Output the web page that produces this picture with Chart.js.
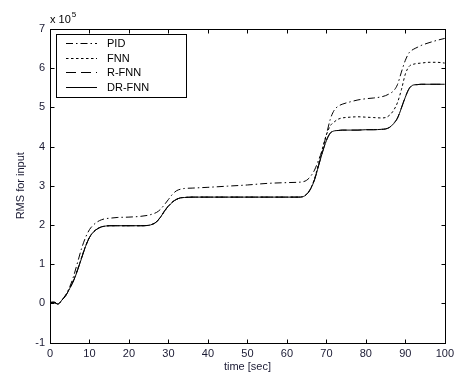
<!DOCTYPE html>
<html><head><meta charset="utf-8">
<script src="https://cdn.jsdelivr.net/npm/chart.js@4.4.1/dist/chart.umd.min.js"></script>
<style>html,body{margin:0;padding:0;background:#fff;overflow:hidden}</style>
</head><body>
<canvas id="c" width="459" height="374"></canvas>
<script>
// ---- data ----
const timeSec = [0,1,2,3,4,5,6,7,8,9,10,11,12,13,14,15,17,20,23,25,26,27,28,29,30,31,32,33,34,36,40,45,50,55,60,63,64,65,66,67,68,69,70,71,72,73,74,76,78,80,82,84,85,86,87,88,89,90,91,92,93,94,96,98,100];
const pid = [0.00,0.02,-0.02,0.08,0.22,0.42,0.70,1.05,1.40,1.68,1.88,2.00,2.08,2.13,2.16,2.17,2.19,2.20,2.22,2.25,2.28,2.32,2.40,2.52,2.65,2.78,2.87,2.91,2.93,2.94,2.96,2.99,3.02,3.06,3.08,3.09,3.10,3.14,3.24,3.40,3.65,3.92,4.30,4.70,4.93,5.03,5.08,5.14,5.19,5.22,5.24,5.27,5.30,5.35,5.42,5.58,5.90,6.20,6.40,6.48,6.53,6.58,6.65,6.71,6.76];
const fnn = [0.02,0.03,-0.02,0.08,0.20,0.39,0.60,0.87,1.17,1.46,1.69,1.82,1.90,1.95,1.97,1.98,1.98,1.98,1.98,1.99,2.02,2.08,2.20,2.35,2.48,2.58,2.65,2.69,2.70,2.71,2.71,2.71,2.71,2.71,2.71,2.71,2.72,2.79,2.93,3.18,3.55,3.95,4.30,4.53,4.63,4.70,4.73,4.75,4.76,4.75,4.74,4.73,4.74,4.80,4.92,5.12,5.45,5.85,6.05,6.10,6.12,6.13,6.15,6.15,6.13];
const rfnn = [0.02,0.03,-0.02,0.08,0.20,0.38,0.59,0.86,1.16,1.45,1.68,1.82,1.90,1.95,1.97,1.98,1.98,1.98,1.98,1.99,2.02,2.08,2.21,2.36,2.49,2.59,2.65,2.69,2.70,2.71,2.71,2.71,2.71,2.71,2.71,2.71,2.72,2.78,2.92,3.16,3.51,3.86,4.16,4.35,4.40,4.41,4.42,4.42,4.42,4.43,4.43,4.44,4.45,4.49,4.59,4.73,4.99,5.27,5.49,5.57,5.58,5.59,5.59,5.59,5.59];
const drfnn = [0.02,0.03,-0.02,0.08,0.20,0.38,0.58,0.85,1.15,1.45,1.68,1.82,1.90,1.95,1.97,1.98,1.98,1.98,1.98,1.99,2.02,2.08,2.20,2.35,2.48,2.58,2.65,2.69,2.70,2.71,2.71,2.71,2.71,2.71,2.71,2.71,2.72,2.78,2.92,3.15,3.50,3.85,4.15,4.34,4.40,4.41,4.42,4.42,4.42,4.43,4.43,4.44,4.45,4.49,4.58,4.72,4.98,5.26,5.48,5.57,5.58,5.59,5.59,5.59,5.59];
const seriesNames = ['PID','FNN','R-FNN','DR-FNN'];
const xTickValues = [0,10,20,30,40,50,60,70,80,90,100];
const yTickValues = [-1,0,1,2,3,4,5,6,7];
const xTitle = 'time [sec]';
const yTitle = 'RMS for input';
const exponentBase = 'x 10';
const exponentPower = '5';

// ---- styles ----
const FONT = 'Liberation Sans, Arial, sans-serif';
const dashes = [[7,3,1.5,3],[2.5,2.5],[10,5],[]];
const seriesValues = [pid, fnn, rfnn, drfnn];

const datasets = seriesNames.map((name, k) => ({
  label: name,
  data: timeSec.map((t, i) => ({x: t, y: seriesValues[k][i]})),
  borderColor: '#000',
  borderWidth: 1,
  borderDash: dashes[k],
  pointRadius: 0,
  fill: false,
  cubicInterpolationMode: 'monotone'
}));

const frame = {
  id: 'frame',
  afterDraw(chart) {
    const {ctx, chartArea: a, scales: {x, y}} = chart;
    ctx.save();
    ctx.strokeStyle = '#000';
    ctx.lineWidth = 1;
    const L = Math.round(a.left) + 0.5, R = Math.round(a.right) + 0.5;
    const T = Math.round(a.top) + 0.5, B = Math.round(a.bottom) + 0.5;
    ctx.strokeRect(L, T, R - L, B - T);
    const tl = 4;
    ctx.beginPath();
    xTickValues.forEach(v => {
      const px = Math.round(x.getPixelForValue(v)) + 0.5;
      ctx.moveTo(px, B); ctx.lineTo(px, B - tl);
      ctx.moveTo(px, T); ctx.lineTo(px, T + tl);
    });
    yTickValues.forEach(v => {
      const py = Math.round(y.getPixelForValue(v)) + 0.5;
      ctx.moveTo(L, py); ctx.lineTo(L + tl, py);
      ctx.moveTo(R, py); ctx.lineTo(R - tl, py);
    });
    ctx.stroke();

    // exponent label
    ctx.fillStyle = '#000';
    ctx.font = '11px ' + FONT;
    ctx.textBaseline = 'alphabetic';
    ctx.textAlign = 'left';
    ctx.fillText(exponentBase, 50, 23);
    const w = ctx.measureText(exponentBase).width;
    ctx.font = '8px ' + FONT;
    ctx.fillText(exponentPower, 50 + w + 1, 17);

    // legend box
    const bx = 56.5, by = 34.5, bw = 130, bh = 63;
    ctx.fillStyle = '#fff';
    ctx.fillRect(bx, by, bw, bh);
    ctx.strokeRect(bx, by, bw, bh);
    ctx.font = '11px ' + FONT;
    ctx.textBaseline = 'middle';
    chart.data.datasets.forEach((ds, i) => {
      const ry = Math.round(43 + i * 14.6) + 0.5;
      ctx.setLineDash(ds.borderDash);
      ctx.beginPath();
      ctx.moveTo(66, ry); ctx.lineTo(97, ry);
      ctx.stroke();
      ctx.setLineDash([]);
      ctx.fillStyle = '#000';
      ctx.fillText(ds.label, 107, ry);
    });
    ctx.restore();
  }
};

new Chart(document.getElementById('c'), {
  type: 'line',
  data: {datasets},
  plugins: [frame],
  options: {
    responsive: false,
    animation: false,
    devicePixelRatio: 1,
    layout: {padding: {left: 0, right: 9, top: 29, bottom: 0}},
    plugins: {legend: {display: false}, tooltip: {enabled: false}},
    scales: {
      x: {
        type: 'linear', min: 0, max: 100,
        afterFit: s => { s.height = 31.5; },
        afterBuildTicks: s => { s.ticks = xTickValues.map(v => ({value: v})); },
        grid: {display: false, drawTicks: false},
        border: {display: false},
        ticks: {padding: 5, color: '#1a1a33', font: {family: FONT, size: 11}, maxRotation: 0, autoSkip: false},
        title: {display: true, text: xTitle, color: '#1a1a33', font: {family: FONT, size: 11}, padding: {top: 0, bottom: 0}}
      },
      y: {
        type: 'linear', min: -1, max: 7,
        afterFit: s => { s.width = 50; },
        afterBuildTicks: s => { s.ticks = yTickValues.map(v => ({value: v})); },
        grid: {display: false, drawTicks: false},
        border: {display: false},
        ticks: {padding: 5, color: '#1a1a33', font: {family: FONT, size: 11}, autoSkip: false},
        title: {display: true, text: yTitle, color: '#1a1a33', font: {family: FONT, size: 11}, padding: {top: 14, bottom: 0}}
      }
    }
  }
});
</script>
</body></html>
